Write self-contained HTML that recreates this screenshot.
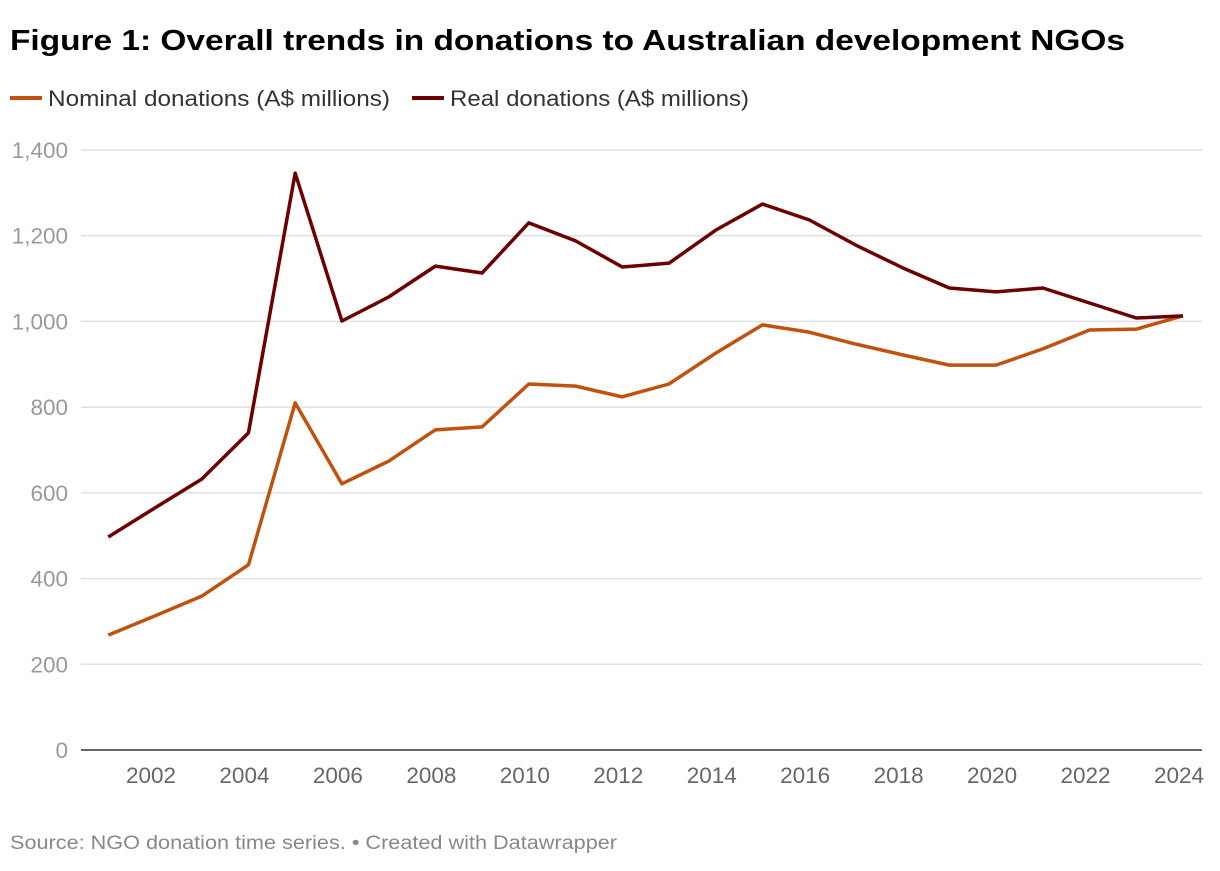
<!DOCTYPE html>
<html><head><meta charset="utf-8"><style>
body{margin:0;background:#fff;width:1220px;height:866px;overflow:hidden;font-family:"Liberation Sans",sans-serif}
</style></head><body>
<svg width="1220" height="866" font-family="Liberation Sans, sans-serif">
<text x="10" y="50" font-size="29" font-weight="bold" fill="#000" textLength="1115" lengthAdjust="spacingAndGlyphs">Figure 1: Overall trends in donations to Australian development NGOs</text>
<g>
<line x1="10" y1="98" x2="42" y2="98" stroke="#c0520f" stroke-width="4"/>
<text x="48" y="106" font-size="22" fill="#333" textLength="342" lengthAdjust="spacingAndGlyphs">Nominal donations (A$ millions)</text>
<line x1="412" y1="98" x2="444" y2="98" stroke="#6b0000" stroke-width="4"/>
<text x="450" y="106" font-size="22" fill="#333" textLength="299" lengthAdjust="spacingAndGlyphs">Real donations (A$ millions)</text>
</g>
<g id="grid"></g><g id="plot"></g>
<text x="10" y="849" font-size="19" fill="#888" textLength="607" lengthAdjust="spacingAndGlyphs">Source: NGO donation time series. • Created with Datawrapper</text>
</svg>
<script>
const years=[2001,2002,2003,2004,2005,2006,2007,2008,2009,2010,2011,2012,2013,2014,2015,2016,2017,2018,2019,2020,2021,2022,2023,2024];
const nominal=[268,313,359,432,810,621,674,747,754,854,849,824,854,926,992,975,947,922,898,898,936,980,982,1013];
const real=[497,565,632,740,1346,1001,1057,1129,1113,1230,1188,1127,1136,1213,1274,1237,1178,1125,1078,1069,1078,1043,1008,1013];
const yTicks=[0,200,400,600,800,1000,1200,1400];
const xTicks=[2002,2004,2006,2008,2010,2012,2014,2016,2018,2020,2022,2024];
const NS="http://www.w3.org/2000/svg";
const x=v=>155+(v-2002)*(1028/22);
const y=v=>750-v*(600/1400);
const grid=document.getElementById('grid'),plot=document.getElementById('plot');
function mk(t,a,p){const e=document.createElementNS(NS,t);for(const k in a)e.setAttribute(k,a[k]);p.appendChild(e);return e;}
yTicks.forEach(t=>{
 if(t>0){const l=mk('line',{x1:81,x2:1202,y1:y(t),y2:y(t),stroke:'#e0e0e0','stroke-width':1.5},grid);
 
 }
 const tx=mk('text',{x:68,y:y(t)+8,'font-size':22.5,fill:'#999','text-anchor':'end'},grid);tx.textContent=t.toLocaleString('en-US');
 
 
});
xTicks.forEach(t=>{
 const tx=mk('text',{x:x(t)-4,y:783,'font-size':22.5,fill:'#666','text-anchor':'middle'},grid);tx.textContent=t;
 
 
});
const ax=mk('line',{x1:81,x2:1202,y1:750,y2:750,stroke:'#333','stroke-width':1.5},grid);


function series(vals,col,name){
 const p=mk('polyline',{points:vals.map((v,i)=>x(years[i])+','+y(v)).join(' '),fill:'none',stroke:col,'stroke-width':3.5,'stroke-linejoin':'round'},plot);
 
 
}
series(nominal,'#c0520f','nominal-line');
series(real,'#6b0000','real-line');
</script>
</body></html>
